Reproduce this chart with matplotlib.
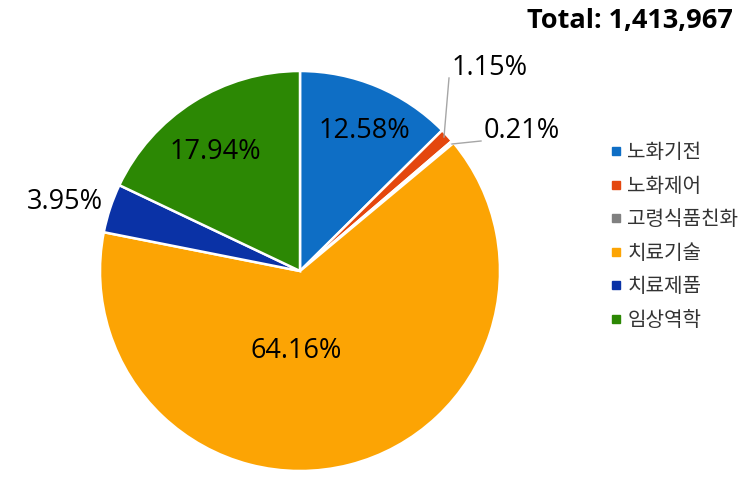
import matplotlib.pyplot as plt
from matplotlib.lines import Line2D

categories = ['노화기전', '노화제어', '고령식품친화', '치료기술', '치료제품', '임상역학']
shares = [12.58, 1.15, 0.21, 64.16, 3.95, 17.94]
colors = ['#0E6EC5', '#E4470E', '#808080', '#FCA404', '#0A32A6', '#2C8804']
total = 1413967

plt.rcParams['font.family'] = ['Noto Sans CJK KR', 'DejaVu Sans']

fig = plt.figure(figsize=(7.44, 4.87), dpi=100)
ax = fig.add_axes([100 / 744, 16 / 487, 400 / 744, 400 / 487])

wedges, _ = ax.pie(shares, colors=colors, startangle=90, counterclock=False,
                   radius=1, wedgeprops=dict(edgecolor='white', linewidth=1.8))
ax.set_xlim(-1, 1)
ax.set_ylim(-1, 1)
ax.set_aspect('equal')

# label positions (data coords), some with leader lines
label_pos = [(0.32, 0.70), (0.95, 1.015), (1.11, 0.70), (-0.02, -0.40), (-1.175, 0.345), (-0.425, 0.595)]
leaders = {1: [(0.72, 0.67), (0.745, 0.965)], 2: [(0.76, 0.635), (0.905, 0.65)]}

for i, (val, (x, y)) in enumerate(zip(shares, label_pos)):
    ax.text(x, y, f'{val:.2f}%', ha='center', va='center', fontsize=19.5,
            color='black', family=['Open Sans', 'DejaVu Sans'], clip_on=False)
    if i in leaders:
        (x0, y0), (x1, y1) = leaders[i]
        ax.plot([x0, x1], [y0, y1], color='#A6A6A6', lw=1, clip_on=False)

handles = [Line2D([], [], marker='s', linestyle='', markersize=6, color=c) for c in colors]
fig.legend(handles, categories, loc='upper left', bbox_to_anchor=(588 / 744, 1 - 124 / 487),
           frameon=False, fontsize=14.5, labelspacing=0.62, handletextpad=0.05,
           handlelength=1.0, labelcolor='#333333')

fig.text(733 / 744, 1 - 21 / 487, f'Total: {total:,}', ha='right', va='center',
         fontsize=19.5, fontweight='bold', family=['Open Sans', 'DejaVu Sans'])

fig.savefig('out.png', dpi=100, facecolor='white')
